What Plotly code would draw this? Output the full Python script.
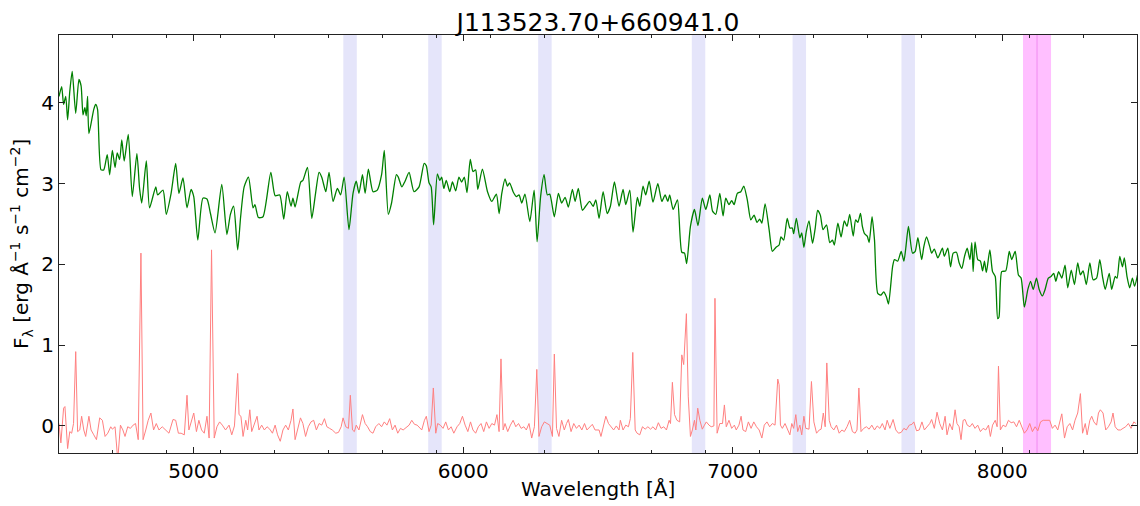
import plotly.graph_objects as go

title_text = "J113523.70+660941.0"

# Green spectrum (wavelength [A], flux)
green_wave = [4500,4510,4517,4525,4532,4540,4549,4562,4574,4582,4589,4596,4601,4606,4611,4629,4636,4643,4656,4666,
              4679,4688,4698,4708,4716,4725,4733,4742,4757,4772,4789,4799,4807,4824,4836,4859,4866,4886,4898,4916,
              4933,4945,4960,4975,4990,5000,5015,5034,5049,5062,5079,5104,5123,5136,5148,5163,
              5174,5187,5203,5220,5227,5240,5257,5286,5302,5319,5334,5347,5361,5368,5376,5397,5405,5422,5438,5452,
              5465,5475,5490,5502,5517,5533,5545,5558,5576,5591,5603,5613,5626,5636,5648,5665,5681,5697,5707,5722,
              5734,5752,5759,5772,5784,5799,5817,
              5836,5855,5863,5873,5881,5890,5904,5913,5920,5928,5937,5950,5960,5972,5984,5994,6004,6014,6026,6036,
              6046,6054,6071,6090,6106,6123,6133,6143,6155,6164,6172,6185,6197,6207,6217,6229,6247,6263,6274,6287,
              6300,6312,6321,6338,6353,6365,6378,6390,6405,6415,6427,6442,6454,6469,6482,6492,
              6504,6519,6534,6546,6561,6578,6593,6603,6618,6630,6646,6655,6667,6677,6690,6704,6722,6737,6749,6759,
              6766,6779,6795,6811,6821,6829,6843,6858,6871,6887,6900,6915,6925,6937,6952,6964,6974,6986,6996,7005,
              7017,7030,7041,7054,7067,7079,7090,7100,7108,7120,7135,7147,7160,
              7172,7179,7189,7202,7212,7221,7226,7236,7249,7256,7264,7273,7283,7296,7306,7315,7325,7335,7348,7360,
              7370,7377,7390,7402,7414,7424,7434,7447,7456,7464,7474,7481,7489,7499,7506,7517,7526,7538,7550,7560,
              7570,7578,7593,7600,7612,7625,7635,7642,7652,7667,7677,7687,7701,7709,7719,7731,7738,7748,7761,7778,
              7785,7798,7808,7818,7830,
              7840,7850,7860,7870,7880,7887,7892,7899,7909,7919,7927,7934,7941,7954,7964,7974,7983,7988,7998,8013,
              8026,8035,8048,8060,8070,8082,8095,8105,8115,8127,8137,8149,8159,8171,8181,8191,8199,8209,8221,8233,
              8243,8256,8268,8280,8290,8300,8312,8325,8337,8350,8362,8372,8382,8397,8406,8419,8426,8436,8446,8453,
              8463,8473,8483,8491,8502]
green_flux = [4.08,4.20,3.98,4.08,3.79,4.14,4.39,3.87,4.29,4.21,3.85,3.94,3.84,4.08,3.62,3.92,3.98,3.92,3.17,3.17,
              3.36,3.11,3.41,3.20,3.38,3.30,3.54,3.28,3.61,2.84,3.37,2.94,2.76,3.28,2.70,2.96,2.86,2.92,2.62,2.88,
              3.25,2.88,3.07,2.70,2.93,2.84,2.30,2.82,2.81,2.63,2.39,2.99,2.37,2.62,2.72,2.18,
              2.59,2.96,3.08,2.70,2.74,2.58,2.59,3.14,2.85,2.86,2.56,2.90,2.72,2.82,2.71,3.02,3.04,3.20,2.57,2.88,
              3.14,3.08,2.90,3.14,2.78,2.94,2.86,3.08,2.43,2.88,3.03,2.88,3.11,2.88,3.18,2.90,2.92,3.11,3.41,2.62,
              2.76,3.11,3.08,2.96,3.03,3.14,2.90,
              2.96,3.25,3.22,3.01,2.96,2.49,3.12,3.04,3.08,2.94,3.04,2.90,3.02,2.91,3.08,3.02,3.08,2.89,3.30,3.15,
              3.17,2.93,3.18,2.90,2.78,2.87,2.63,2.88,3.06,2.97,3.01,2.90,2.84,2.86,2.76,2.87,2.53,2.92,2.28,2.84,
              3.11,2.86,2.87,2.59,2.88,2.76,2.83,2.71,2.93,2.78,2.94,2.67,2.72,2.78,2.72,2.80,
              2.57,2.90,2.63,2.72,3.02,2.72,2.93,2.74,2.92,2.40,2.83,2.72,2.97,2.86,3.03,2.77,3.00,2.78,2.86,2.78,
              2.86,2.68,2.80,2.15,2.14,2.01,2.47,2.68,2.48,2.82,2.68,2.86,2.66,2.62,2.88,2.60,2.82,2.74,2.79,2.74,
              2.88,2.90,2.97,2.80,2.55,2.61,2.52,2.56,2.51,2.75,2.43,2.16,2.21,
              2.24,2.34,2.30,2.57,2.45,2.45,2.38,2.57,2.33,2.39,2.21,2.41,2.54,2.26,2.45,2.67,2.61,2.43,2.49,2.27,
              2.30,2.24,2.51,2.34,2.54,2.47,2.62,2.35,2.55,2.52,2.63,2.47,2.38,2.35,2.27,2.59,2.30,1.64,1.62,1.66,
              1.60,1.51,1.97,2.06,2.04,2.16,2.04,2.20,2.47,2.14,2.16,2.33,2.06,2.22,2.34,2.22,2.14,2.19,2.08,2.20,
              2.10,2.20,1.97,2.14,2.15,
              2.02,1.95,2.10,2.20,2.06,2.27,1.91,2.28,2.06,2.04,1.92,2.04,1.90,2.18,1.91,1.85,1.33,1.35,1.91,1.92,
              2.16,2.06,2.16,1.87,1.83,1.47,1.69,1.79,1.69,1.83,1.69,1.61,1.69,1.83,1.85,1.89,1.79,1.91,1.83,1.99,
              1.71,1.93,1.75,2.02,1.87,1.92,1.75,2.02,1.81,1.83,2.06,1.85,1.69,1.89,1.69,1.85,1.83,2.10,1.97,2.08,
              1.85,1.71,1.83,1.73,1.87]

# Red (residual / emission) spectrum
red_wave = [4500,4507,4517,4522,4532,4540,4547,4554,4562,4569,4577,4584,4592,4599,4611,4619,4629,4639,4651,4661,
            4671,4681,4692,4698,4708,4718,4728,4737,4745,4755,4765,4775,4784,4794,4804,4812,4822,4831,4841,4851,
            4861,4871,4883,4896,4908,4923,4933,4943,4953,4965,4975,4982,4992,5000,5010,5019,5029,5039,5049,5057,
            5066,5076,5086,5096,5106,5118,5131,5141,5151,5163,
            5168,5175,5183,5193,5200,5208,5215,5222,5235,5242,5252,5262,5272,5282,5292,5302,5311,5321,5331,5341,
            5351,5361,5368,5376,5386,5396,5405,5415,5425,5435,5445,5455,5465,5475,5485,5494,5504,5514,5527,5537,
            5547,5554,5564,5574,5581,5589,5596,5603,5613,5626,5636,5645,5655,5665,5675,5687,5697,5707,5717,5727,
            5737,5747,5757,5767,5777,5786,5799,5809,5819,5829,
            5836,5846,5856,5863,5873,5881,5889,5898,5905,5915,5925,5935,5945,5955,5965,5977,5987,5997,6007,6017,
            6027,6036,6046,6056,6066,6076,6086,6096,6106,6116,6125,6133,6140,6148,6155,6165,6175,6185,6195,6205,
            6215,6225,6234,6244,6254,6264,6273,6281,6291,6301,6311,6321,6331,6338,6346,6355,6365,6375,6383,6390,
            6400,6410,6420,6430,6440,6450,6459,6469,6479,6489,
            6504,6511,6519,6529,6539,6549,6558,6568,6578,6583,6593,6603,6613,6620,6629,6638,6645,6655,6665,6675,
            6685,6695,6704,6714,6724,6734,6744,6754,6764,6769,6776,6784,6793,6803,6811,6818,6828,6835,6843,6850,
            6858,6863,6870,6878,6887,6895,6902,6912,6920,6930,6934,6942,6952,6962,6969,6976,6986,6996,7006,7013,
            7023,7031,7038,7048,7058,7068,7078,7088,7098,7108,7117,7127,7137,7147,7157,7167,
            7172,7177,7184,7194,7204,7212,7219,7226,7234,7241,7249,7256,7264,7271,7283,7292,7301,7311,7321,7328,
            7336,7343,7349,7358,7365,7375,7385,7395,7405,7414,7424,7434,7444,7454,7461,7468,7476,7486,7496,7506,
            7516,7526,7536,7546,7555,7565,7573,7583,7595,7605,7615,7625,7635,7644,7655,7665,7672,7682,7692,7702,
            7711,7721,7731,7738,7748,7758,7768,7778,7788,7795,7805,7815,7825,7832,
            7840,7847,7855,7862,7870,7880,7889,7899,7909,7919,7929,7939,7949,7956,7964,7974,7981,7986,7993,8003,
            8013,8023,8033,8043,8053,8063,8073,8082,8092,8102,8112,8122,8132,8142,8152,8164,8176,8186,8196,8206,
            8213,8221,8231,8241,8251,8261,8270,8280,8290,8298,8308,8315,8325,8332,8340,8350,8357,8364,8374,8384,
            8394,8404,8411,8419,8429,8439,8448,8458,8468,8478,8488,8496]
red_flux = [0.03,-0.21,0.22,0.24,-0.28,-0.07,-0.09,0.03,0.92,-0.07,-0.05,0.12,-0.05,-0.13,0.12,-0.05,-0.11,-0.17,0.10,0.07,
            -0.13,-0.09,-0.01,-0.04,-0.01,-0.42,0.01,-0.05,-0.13,-0.01,-0.03,0.01,0.03,-0.17,2.14,-0.17,-0.05,0.07,0.16,-0.05,
            0.03,-0.05,-0.01,-0.05,-0.09,0.08,0.07,-0.09,-0.09,-0.11,0.38,-0.05,0.07,0.16,-0.07,0.07,-0.05,-0.09,0.12,-0.15,
            2.18,-0.15,-0.01,0.05,0.01,-0.05,0.01,-0.11,0.00,0.65,
            0.14,0.12,-0.13,0.07,-0.05,0.20,-0.07,-0.01,0.12,-0.05,0.01,-0.05,-0.01,-0.04,-0.09,0.01,-0.11,-0.19,-0.05,0.01,
            -0.05,0.07,0.21,-0.17,-0.03,0.10,0.03,-0.13,-0.01,0.05,0.07,-0.05,0.03,0.01,0.09,-0.01,-0.03,-0.05,-0.09,-0.08,
            -0.01,0.10,-0.01,-0.03,0.38,-0.05,-0.07,0.01,-0.05,0.14,0.03,-0.01,-0.07,-0.09,-0.01,0.03,-0.01,0.05,0.01,0.09,
            -0.05,0.01,-0.09,-0.03,-0.05,-0.03,0.01,0.07,0.02,0.01,
            -0.01,-0.05,0.07,0.12,-0.07,0.01,0.47,-0.09,0.03,0.01,-0.03,0.05,-0.05,-0.01,-0.09,-0.01,0.03,0.12,0.01,-0.07,
            0.05,-0.05,-0.09,-0.01,0.03,-0.07,0.05,-0.03,0.03,0.01,0.14,-0.07,0.83,-0.05,0.03,-0.07,0.01,0.07,-0.01,0.03,
            -0.03,-0.01,-0.05,0.03,-0.15,-0.01,0.70,-0.13,-0.01,0.05,0.03,0.01,-0.13,0.89,-0.03,-0.13,0.07,-0.05,0.03,0.08,
            -0.07,0.03,-0.03,0.01,-0.05,0.03,-0.05,-0.01,0.02,-0.05,
            -0.05,-0.13,-0.03,0.12,0.03,-0.01,-0.05,0.00,-0.05,0.07,-0.05,0.01,-0.01,0.09,0.91,-0.05,-0.09,-0.11,-0.01,-0.04,
            -0.01,-0.04,-0.01,-0.05,0.04,-0.03,-0.01,-0.05,0.07,0.03,0.54,0.14,0.07,0.05,0.88,0.76,1.39,0.36,-0.13,-0.05,
            0.07,-0.05,0.22,0.07,-0.04,0.01,0.05,0.01,-0.01,0.00,1.58,-0.09,0.03,0.03,0.26,-0.01,0.07,-0.03,0.01,-0.05,
            0.01,0.12,-0.05,-0.07,0.05,-0.03,0.05,-0.01,-0.05,-0.15,0.01,0.05,-0.01,0.03,0.01,0.58,
            0.51,0.01,-0.03,0.03,-0.05,-0.11,0.03,-0.03,0.14,-0.07,0.01,-0.11,0.12,-0.03,-0.04,0.55,0.05,-0.09,-0.05,-0.04,
            0.16,-0.01,0.78,0.07,-0.01,-0.05,0.01,-0.09,-0.05,-0.07,-0.01,0.07,-0.07,-0.09,-0.05,0.47,-0.07,-0.03,-0.01,-0.04,
            0.01,-0.05,0.00,-0.03,0.03,-0.05,0.07,-0.03,0.08,-0.05,-0.09,-0.08,-0.03,-0.05,0.01,0.02,0.05,-0.06,-0.05,0.05,
            -0.05,-0.01,0.03,0.08,-0.03,0.17,0.03,-0.05,0.12,-0.11,0.03,-0.05,0.20,0.03,
            -0.01,-0.17,0.07,0.08,0.01,-0.01,0.03,-0.03,0.01,-0.07,-0.03,-0.05,0.01,-0.13,0.01,0.07,-0.01,0.74,-0.05,0.01,
            -0.01,0.07,0.04,0.05,-0.01,0.07,-0.01,-0.09,-0.05,0.03,-0.07,-0.01,-0.06,0.05,0.07,0.07,0.07,-0.03,0.01,-0.05,
            0.05,0.15,-0.15,-0.01,0.03,-0.05,0.07,0.16,0.40,-0.09,0.03,-0.11,0.07,0.12,0.05,0.01,0.16,0.20,0.16,-0.05,
            -0.01,0.05,0.16,-0.01,-0.05,-0.05,-0.03,-0.01,0.03,-0.03,0.05,0.03]

# Masked sky regions (blue) and highlighted region (pink)
sky_lo = [5555, 5870, 6278, 6848, 7222, 7626]
sky_hi = [5605, 5920, 6328, 6898, 7272, 7676]
pink_lo, pink_hi, pink_mid = 8077, 8181, 8129

x_label = "Wavelength [Å]"
y_label = "F<sub>λ</sub> [erg Å<sup>−1</sup> s<sup>−1</sup> cm<sup>−2</sup>]"

fig = go.Figure()

for lo, hi in zip(sky_lo, sky_hi):
    fig.add_vrect(x0=lo, x1=hi, fillcolor="#e5e5fa", line_width=0, layer="below")
fig.add_vrect(x0=pink_lo, x1=pink_hi, fillcolor="#ffbfff", line_width=0, layer="below")
fig.add_vline(x=pink_mid, line_color="#f08cf0", line_width=1, layer="below")

fig.add_trace(go.Scatter(x=red_wave, y=red_flux, mode="lines",
                         line=dict(color="#ff8080", width=1), showlegend=False))
fig.add_trace(go.Scatter(x=green_wave, y=green_flux, mode="lines",
                         line=dict(color="#008000", width=1.3, shape="spline", smoothing=0.6),
                         showlegend=False))

font_family = "DejaVu Sans"
fig.update_layout(
    width=1140, height=506,
    margin=dict(l=59, r=3, t=35, b=53, autoexpand=False),
    plot_bgcolor="white", paper_bgcolor="white",
    font=dict(family=font_family, color="black", size=20),
    title=dict(text=title_text, x=0.5, xref="paper", xanchor="center", y=1, yref="paper",
               yanchor="bottom", pad=dict(b=4), font=dict(size=25, family=font_family)),
    showlegend=False,
    annotations=[
        dict(text=x_label, x=0.5, y=0, xref="paper", yref="paper", xanchor="center", yanchor="middle",
             yshift=-36, showarrow=False, font=dict(size=20, family=font_family)),
        dict(text=y_label, x=0, y=0.5, xref="paper", yref="paper", xanchor="center", yanchor="middle",
             xshift=-38, textangle=-90, showarrow=False, font=dict(size=20, family=font_family)),
    ],
)
fig.update_xaxes(
    range=[4500, 8500], tickvals=[5000, 6000, 7000, 8000], ticktext=["5000", "6000", "7000", "8000"],
    ticks="inside", ticklen=6, tickwidth=1, tickcolor="#222",
    minor=dict(dtick=200, tick0=4500, ticks="inside", ticklen=3, tickcolor="#222"),
    showline=True, linecolor="#222", linewidth=1.2, mirror="ticks",
    showgrid=False, zeroline=False, automargin=False,
    tickfont=dict(size=20),
)
fig.update_yaxes(
    range=[-0.335, 4.84], tickvals=[0, 1, 2, 3, 4],
    ticks="inside", ticklen=6, tickwidth=1, tickcolor="#222",
    showline=True, linecolor="#222", linewidth=1.2, mirror="ticks",
    showgrid=False, zeroline=False, automargin=False,
    tickfont=dict(size=20),
)

fig.write_html("out.html", config={"displayModeBar": False},
               post_script="document.body.style.margin='0';document.body.style.overflow='hidden';")
